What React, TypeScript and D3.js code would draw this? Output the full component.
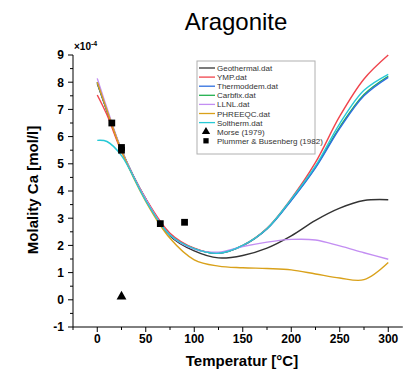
import * as d3 from 'd3';

const TEMPS = [0, 10, 25, 50, 75, 100, 125, 150, 175, 200, 225, 250, 275, 300];

const GEOTHERMAL = [7.95, 6.95, 5.5, 3.7, 2.35, 1.8, 1.54, 1.63, 1.9, 2.35, 2.92, 3.37, 3.65, 3.68];
const YMP = [7.53, 6.8, 5.45, 3.72, 2.45, 1.9, 1.72, 2.0, 2.63, 3.72, 5.05, 6.75, 8.12, 9.0];
const THERMODDEM = [8.0, 6.95, 5.5, 3.7, 2.38, 1.88, 1.71, 1.99, 2.6, 3.65, 4.85, 6.3, 7.5, 8.18];
const CARBFIX = [8.0, 6.95, 5.5, 3.7, 2.38, 1.88, 1.71, 1.99, 2.61, 3.67, 4.88, 6.35, 7.55, 8.22];
const LLNL = [8.14, 7.05, 5.52, 3.7, 2.38, 1.86, 1.75, 1.96, 2.12, 2.22, 2.2, 1.98, 1.73, 1.49];
const PHREEQC = [8.0, 6.97, 5.48, 3.62, 2.26, 1.47, 1.24, 1.18, 1.15, 1.1, 0.95, 0.8, 0.74, 1.37];
const SOLTHERM = [5.86, 5.82, 5.3, 3.65, 2.38, 1.88, 1.71, 2.0, 2.62, 3.7, 4.92, 6.48, 7.7, 8.29];

const SERIES = [
  { name: 'Geothermal.dat', color: '#333333', values: GEOTHERMAL },
  { name: 'YMP.dat', color: '#f0444c', values: YMP },
  { name: 'Thermoddem.dat', color: '#2f6fe0', values: THERMODDEM },
  { name: 'Carbfix.dat', color: '#22b04f', values: CARBFIX },
  { name: 'LLNL.dat', color: '#c38ef2', values: LLNL },
  { name: 'PHREEQC.dat', color: '#d9a11a', values: PHREEQC },
  { name: 'Soltherm.dat', color: '#27c9d6', values: SOLTHERM },
];

// draw order (last on top)
const DRAW_ORDER = [0, 3, 2, 1, 4, 5, 6];

const MORSE_T = [25];
const MORSE_V = [0.12];
const PLUMMER_T = [15, 25, 25, 65, 90];
const PLUMMER_V = [6.5, 5.6, 5.5, 2.8, 2.85];

const X_TICKS = [0, 50, 100, 150, 200, 250, 300];
const Y_TICKS = [-1, 0, 1, 2, 3, 4, 5, 6, 7, 8, 9];

const FONT = '"Liberation Sans", Arial, sans-serif';

export default function App() {
  const width = 413;
  const height = 375;
  const x = d3.scaleLinear().domain([-25, 315]).range([73, 402.8]);
  const y = d3.scaleLinear().domain([-1, 9]).range([327, 55]);

  const line = d3
    .line<number>()
    .x((_, i) => x(TEMPS[i]))
    .y((d) => y(d))
    .curve(d3.curveCatmullRom.alpha(0.5));

  const xMinor = d3.range(-25, 315, 25).filter((t) => t % 50 !== 0);
  const yMinor = d3.range(-0.5, 9, 1);

  const legendX = 197;
  const legendY = 61;
  const rowH = 9.1;
  const legendRows = [
    ...SERIES.map((s) => ({ name: s.name, kind: 'line', color: s.color })),
    { name: 'Morse (1979)', kind: 'tri', color: '#000' },
    { name: 'Plummer & Busenberg (1982)', kind: 'sq', color: '#000' },
  ];

  const tri = d3.symbol(d3.symbolTriangle, 42)();
  const sq = d3.symbol(d3.symbolSquare, 46)();
  const triSmall = d3.symbol(d3.symbolTriangle, 30)();
  const sqSmall = d3.symbol(d3.symbolSquare, 28)();

  return (
    <svg
      width={width}
      height={height}
      style={{ position: 'absolute', left: 0, top: 0, background: '#fff', fontFamily: FONT }}
    >
      <text x={236} y={30} textAnchor="middle" fontSize={24} fill="#000">
        Aragonite
      </text>

      {/* curves */}
      {DRAW_ORDER.map((i) => (
        <path
          key={SERIES[i].name}
          d={line(SERIES[i].values) ?? ''}
          fill="none"
          stroke={SERIES[i].color}
          strokeWidth={1.4}
        />
      ))}

      {/* measured points */}
      {PLUMMER_T.map((t, i) => (
        <path key={'p' + i} d={sq} transform={`translate(${x(t)},${y(PLUMMER_V[i])})`} fill="#000" />
      ))}
      {MORSE_T.map((t, i) => (
        <path key={'m' + i} d={tri} transform={`translate(${x(t)},${y(MORSE_V[i])})`} fill="#000" />
      ))}

      {/* axes */}
      <g stroke="#000" strokeWidth={1}>
        <line x1={x(-25)} x2={x(-25)} y1={y(-1)} y2={y(9)} />
        <line x1={x(-25)} x2={x(315)} y1={y(-1)} y2={y(-1)} />
        {Y_TICKS.map((v) => (
          <line key={'yt' + v} x1={x(-25) - 5} x2={x(-25)} y1={y(v)} y2={y(v)} />
        ))}
        {yMinor.map((v) => (
          <line key={'ym' + v} x1={x(-25) - 3} x2={x(-25)} y1={y(v)} y2={y(v)} />
        ))}
        {X_TICKS.map((t) => (
          <line key={'xt' + t} x1={x(t)} x2={x(t)} y1={y(-1)} y2={y(-1) + 5} />
        ))}
        {xMinor.map((t) => (
          <line key={'xm' + t} x1={x(t)} x2={x(t)} y1={y(-1)} y2={y(-1) + 3} />
        ))}
      </g>

      {Y_TICKS.map((v) => (
        <text key={'yl' + v} x={x(-25) - 9} y={y(v) + 4.3} textAnchor="end" fontSize={12} fontWeight="bold">
          {v}
        </text>
      ))}
      {X_TICKS.map((t) => (
        <text key={'xl' + t} x={x(t)} y={y(-1) + 16} textAnchor="middle" fontSize={12} fontWeight="bold">
          {t}
        </text>
      ))}

      <text x={74} y={50} fontSize={10} fontWeight="bold">
        ×10
        <tspan dy={-4} fontSize={7}>
          -4
        </tspan>
      </text>

      <text x={242} y={366} textAnchor="middle" fontSize={15} fontWeight="bold">
        Temperatur [°C]
      </text>
      <text
        transform={`translate(38,190) rotate(-90)`}
        textAnchor="middle"
        fontSize={15}
        fontWeight="bold"
      >
        Molality Ca [mol/l]
      </text>

      {/* legend */}
      <rect x={legendX} y={legendY} width={118} height={93} fill="#fff" stroke="#b0b0b0" strokeWidth={1} />
      {legendRows.map((r, i) => {
        const cy = legendY + 7 + i * rowH;
        return (
          <g key={r.name}>
            {r.kind === 'line' && (
              <line x1={legendX + 2} x2={legendX + 18} y1={cy} y2={cy} stroke={r.color} strokeWidth={1.3} />
            )}
            {r.kind === 'tri' && <path d={triSmall} transform={`translate(${legendX + 9},${cy})`} fill="#000" />}
            {r.kind === 'sq' && <path d={sqSmall} transform={`translate(${legendX + 9},${cy})`} fill="#000" />}
            <text x={legendX + 20} y={cy + 3} fontSize={8} fill="#333">
              {r.name}
            </text>
          </g>
        );
      })}
    </svg>
  );
}
